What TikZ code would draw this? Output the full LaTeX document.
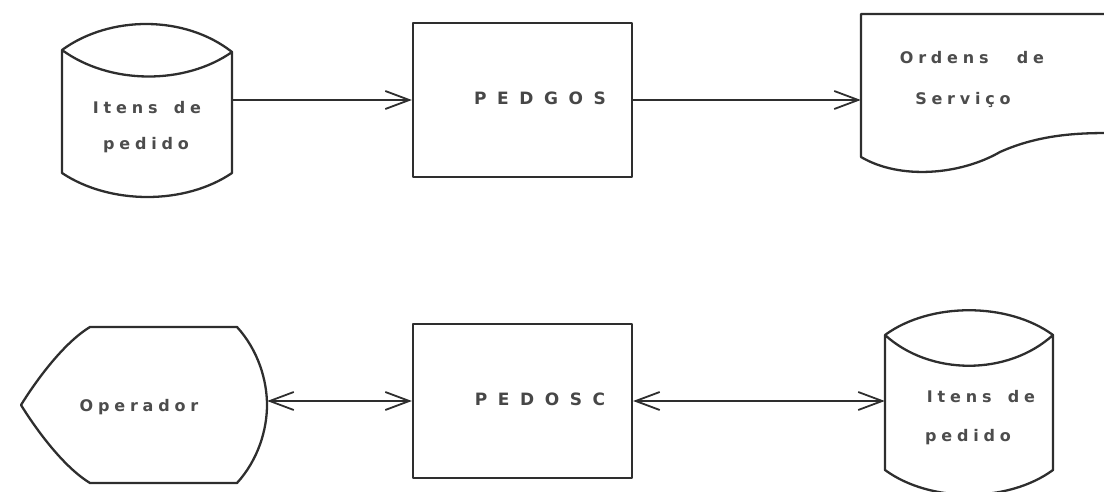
\documentclass[tikz,border=0pt]{standalone}
\usepackage{fontspec}
\usetikzlibrary{arrows.meta}
\newfontfamily\lowfont{DejaVu Sans}[LetterSpace=30]
\newfontfamily\capfont{DejaVu Sans}[LetterSpace=62]
\tikzset{
  ink/.style={draw=black!82, line width=2.3pt, line join=round},
  holder/.style={draw=none, inner sep=0pt, rectangle},
  prog/.style={ink, rectangle, minimum width=219pt, minimum height=154pt, inner sep=0pt},
  lbl/.style={text=black!70, inner sep=0pt, font=\lowfont\bfseries\fontsize{16}{20}\selectfont, align=left},
  caplbl/.style={text=black!72, inner sep=0pt, font=\capfont\bfseries\fontsize{17}{18}\selectfont},
  arr/.style={draw=black!82, line width=1.8pt, -{Straight Barb[length=24pt,width=18pt,line width=1.8pt]}},
  darr/.style={draw=black!82, line width=1.8pt, {Straight Barb[length=24pt,width=18pt,line width=1.8pt]}-{Straight Barb[length=24pt,width=18pt,line width=1.8pt]}}
}
\begin{document}
\begin{tikzpicture}[x=1pt,y=-1pt]
\useasboundingbox (0,0) rectangle (1104,492);
\begin{scope}
\clip (0,0) rectangle (1104,492);
% top-left cylinder
\node[holder, minimum width=170pt, minimum height=123pt] (db1) at (147,111.5) {};
\draw[ink] (62,50) .. controls (110,15) and (185,15) .. (232,52)
  .. controls (185,85) and (110,85) .. (62,50) -- (62,173)
  .. controls (110,205) and (185,205) .. (232,173) -- (232,52);
\node[lbl] (t1a) at (147,108) {Itens\hspace{6pt} de};
\node[lbl] (t1b) at (146,145) {pedido};
% PEDGOS
\node[prog] (pedgos) at (522.5,100) {};
\node[caplbl] (pedgost) at (540,98) {PEDGOS};
% document
\node[holder, minimum width=243pt, minimum height=143pt] (doc) at (982.5,85.5) {};
\draw[ink] (1110,14) -- (861,14) -- (861,157)
  .. controls (900,180) and (960,175) .. (1000,152)
  .. controls (1040,134) and (1080,133) .. (1110,133);
\node[lbl] (t2a) at (972,58) {Ordens\hspace{18pt} de};
\node[lbl] (t2b) at (963,100) {Serviço};
% operador
\node[holder, minimum width=246pt, minimum height=156pt] (oper) at (144,401) {};
\draw[ink] (90,327) -- (237,327)
  .. controls (258,350) and (267,380) .. (267,405)
  .. controls (267,430) and (258,460) .. (237,483) -- (90,483)
  .. controls (62,466) and (34,426) .. (21,405)
  .. controls (34,384) and (62,344) .. (90,327) -- cycle;
\node[lbl] (t3) at (139,407) {Operador};
% PEDOSC
\node[prog] (pedosc) at (522.5,401) {};
\node[caplbl] (pedosct) at (540,399) {PEDOSC};
% bottom-right cylinder
\node[holder, minimum width=168pt, minimum height=135pt] (db2) at (969,402.5) {};
\draw[ink] (885,335) .. controls (930,302) and (1008,302) .. (1053,335)
  .. controls (1008,376) and (930,376) .. (885,335) -- (885,470)
  .. controls (930,503) and (1008,503) .. (1053,470) -- (1053,335);
\node[lbl] (t4a) at (981,397) {Itens\hspace{6pt} de};
\node[lbl] (t4b) at (968,437) {pedido};
\end{scope}
% connectors
\draw[arr] (db1.east |- pedgos.west) -- (pedgos.west);
\draw[arr] (pedgos.east) -- (doc.west |- pedgos.east);
\draw[darr] (oper.east) -- (pedosc.west);
\draw[darr] (pedosc.east) -- (db2.west |- pedosc.east);
\end{tikzpicture}
\end{document}
